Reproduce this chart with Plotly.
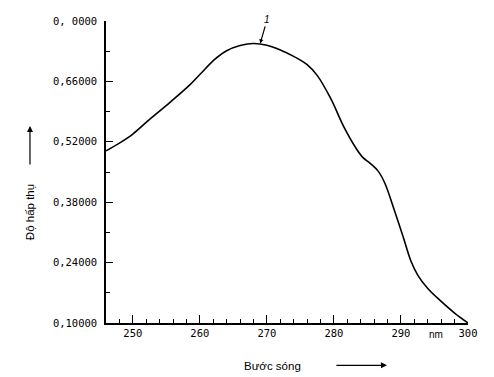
import plotly.graph_objects as go

wavelength = [246, 248, 250, 252.5, 255.5, 258.5, 260, 262.3, 264, 266, 268, 270, 272,
              274, 276, 277.5, 279.5, 281.5, 283.3, 284.3, 285.5, 286.6, 287.6, 289,
              290.3, 291.5, 292.5, 294, 296, 298, 300]
absorbance = [0.499, 0.517, 0.538, 0.572, 0.611, 0.652, 0.676, 0.712, 0.731, 0.743, 0.748, 0.744, 0.733,
              0.718, 0.699, 0.674, 0.621, 0.554, 0.505, 0.484, 0.469, 0.452, 0.424, 0.362,
              0.301, 0.243, 0.211, 0.180, 0.150, 0.123, 0.100]

x_tickvals = [250, 260, 270, 280, 290, 300]
x_ticktext = ["250", "260", "270", "280", "290", "300"]
y_tickvals = [0.10, 0.24, 0.38, 0.52, 0.66, 0.80]
y_ticktext = ["0,10000", "0,24000", "0,38000", "0,52000", "0,66000", "0, 0000"]

mono = "DejaVu Sans Mono"
sans = "Liberation Sans"

fig = go.Figure()
fig.add_trace(go.Scatter(x=wavelength, y=absorbance, mode="lines",
                         line=dict(color="black", width=1.6, shape="spline", smoothing=1.0),
                         showlegend=False, hoverinfo="skip"))

# page body has an 8px margin: shrink the figure so the plot area lands where the reference has it
fig.update_layout(
    width=486, height=369,
    margin=dict(l=98, r=26, t=7, b=54),
    paper_bgcolor="white", plot_bgcolor="white",
    xaxis=dict(range=[246, 300], tickvals=x_tickvals, ticktext=x_ticktext,
               showgrid=False, zeroline=False, showline=True, linecolor="black", linewidth=1.5,
               ticks="inside", ticklen=8, tickwidth=1.2, tickcolor="black",
               tickfont=dict(family=mono, size=10.5, color="black"),
               minor=dict(dtick=2, tick0=246, ticks="inside", ticklen=4, tickwidth=1, tickcolor="black")),
    yaxis=dict(range=[0.10, 0.80], tickvals=y_tickvals, ticktext=y_ticktext,
               showgrid=False, zeroline=False, showline=True, linecolor="black", linewidth=1.5,
               ticks="inside", ticklen=7, tickwidth=1.2, tickcolor="black", ticklabelstandoff=5,
               tickfont=dict(family=mono, size=10.5, color="black"),
               minor=dict(dtick=0.07, tick0=0.10, ticks="inside", ticklen=4, tickwidth=1, tickcolor="black")),
)

annotations = [
    dict(x=295.3, y=-0.039, xref="x", yref="paper", text="nm", showarrow=False,
         font=dict(family=sans, size=10, color="black"), xanchor="center", yanchor="middle"),
    dict(x=0.461, y=-0.143, xref="paper", yref="paper", text="Bước sóng", showarrow=False,
         font=dict(family=sans, size=11.5, color="black"), xanchor="center", yanchor="middle"),
    dict(x=0.776, y=-0.140, xref="paper", yref="paper", text="", showarrow=True,
         ax=-52, ay=0, arrowhead=2, arrowsize=1, arrowwidth=1.2, arrowcolor="black"),
    dict(x=-0.21, y=0.367, xref="paper", yref="paper", text="Độ hấp thụ", showarrow=False,
         textangle=-90, font=dict(family=sans, size=11.5, color="black"),
         xanchor="center", yanchor="middle"),
    dict(x=-0.21, y=0.6526, xref="paper", yref="paper", text="", showarrow=True,
         ax=0, ay=40, arrowhead=2, arrowsize=1, arrowwidth=1.2, arrowcolor="black"),
    dict(x=269.0, y=0.748, xref="x", yref="y", text="<i>1</i>", showarrow=True,
         ax=7, ay=-24, arrowhead=2, arrowsize=0.7, arrowwidth=1.2, arrowcolor="black",
         font=dict(family=sans, size=10, color="black")),
]
fig.update_layout(annotations=annotations)

fig.write_html("out.html")
